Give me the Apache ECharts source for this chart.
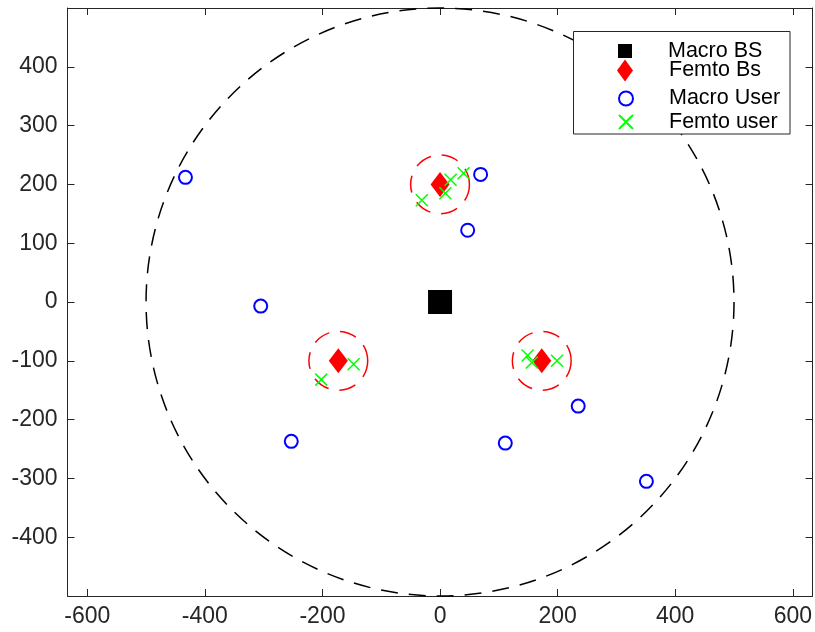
<!DOCTYPE html>
<html>
<head>
<meta charset="utf-8">
<script src="https://cdn.jsdelivr.net/npm/echarts@6/dist/echarts.min.js"></script>
<style>
  html, body { margin: 0; padding: 0; background: #fff; }
  #chart { width: 815px; height: 632px; }
</style>
</head>
<body>
<div id="chart"></div>
<script>
// Network layout: one macro cell (radius 500) with three femto cells (radius 50)
const macroBS = [[0, 0]];
const femtoBS = [[0, 200], [-173, -100], [173, -100]];
const macroUsers = [[-433, 212], [69, 217], [47, 122], [-305, -7], [-253, -237], [111, -240], [235, -177], [351, -305]];
const femtoUsers = [[-31, 173], [9, 185], [18, 208], [40, 219], [-147, -106], [-202, -132], [149, -91], [156, -103], [199, -100]];
const macroCell = [[0, 0, 500]];
const femtoCells = [[0, 200, 50], [-173, -100, 50], [173, -100, 50]];

const xTicks = [-600, -400, -200, 0, 200, 400, 600];
const yTicks = [-400, -300, -200, -100, 0, 100, 200, 300, 400];
const xRange = [-633.6, 633.6];
const yRange = [-500, 500];

const INK = '#262626';
const FONT = 'Liberation Sans, Arial, Helvetica, sans-serif';
const crossPath = 'path://M0,0L10,10M10,0L0,10';

function axisBase(kind, pos, ticks, range, showLabel) {
  return {
    type: 'value', position: pos, min: range[0], max: range[1],
    splitLine: { show: false },
    axisLine: { show: true, onZero: false, lineStyle: { color: INK, width: 1 } },
    axisTick: { show: true, inside: true, length: 7, customValues: ticks, lineStyle: { color: INK, width: 1 } },
    axisLabel: {
      show: showLabel, customValues: ticks, color: INK, fontFamily: FONT, fontSize: 23,
      margin: kind === 'x' ? 9 : 10
    }
  };
}

function circleItem(params, api) {
  const c = api.coord([api.value(0), api.value(1)]);
  const r = api.size([api.value(2), 0])[0];
  return {
    type: 'circle',
    shape: { cx: c[0], cy: c[1], r: r },
    style: { fill: 'none', stroke: api.visual('color'), lineWidth: 1.5, lineDash: [17, 11] },
    silent: true
  };
}

function legendRow(name, top, w, h, pad) {
  return {
    show: true, data: [name], orient: 'vertical', left: 625 - w / 2, top: top - h / 2,
    padding: 0, itemWidth: w, itemHeight: h, selectedMode: false, z: 60,
    textStyle: { color: '#000', fontFamily: FONT, fontSize: 21.5, padding: [0, 0, 0, pad] }
  };
}

const chart = echarts.init(document.getElementById('chart'), null, { renderer: 'canvas' });
chart.setOption({
  animation: false,
  backgroundColor: '#fff',
  grid: { left: 67.5, right: 2, top: 8, bottom: 36, containLabel: false },
  xAxis: [axisBase('x', 'bottom', xTicks, xRange, true), axisBase('x', 'top', xTicks, xRange, false)],
  yAxis: [axisBase('y', 'left', yTicks, yRange, true), axisBase('y', 'right', yTicks, yRange, false)],
  graphic: [{
    type: 'rect', z: 50,
    shape: { x: 573.5, y: 31.5, width: 216.5, height: 102.5 },
    style: { fill: '#fff', stroke: INK, lineWidth: 1 }
  }],
  legend: [
    legendRow('Macro BS', 47, 14, 14, 31),
    legendRow('Femto Bs', 70.5, 16, 22, 31),
    legendRow('Macro User', 94.5, 14, 14, 31),
    legendRow('Femto user', 118, 14, 14, 31)
  ],
  series: [
    { type: 'custom', name: 'macroCell', data: macroCell, renderItem: circleItem, itemStyle: { color: '#000' }, z: 1, clip: false },
    { type: 'custom', name: 'femtoCells', data: femtoCells, renderItem: circleItem, itemStyle: { color: '#ff0000' }, z: 1 },
    { type: 'scatter', name: 'Macro BS', data: macroBS, symbol: 'rect', symbolSize: 24, itemStyle: { color: '#000', opacity: 1 }, z: 5 },
    { type: 'scatter', name: 'Femto Bs', data: femtoBS, symbol: 'diamond', symbolSize: [19, 25], itemStyle: { color: '#ff0000', opacity: 1 }, z: 5 },
    { type: 'scatter', name: 'Macro User', data: macroUsers, symbol: 'emptyCircle', symbolSize: 13, itemStyle: { color: '#0000ff', borderColor: '#0000ff', borderWidth: 1.7, opacity: 1 }, z: 6 },
    { type: 'scatter', name: 'Femto user', data: femtoUsers, symbol: crossPath, symbolSize: 12, itemStyle: { color: '#00ff00', borderColor: '#00ff00', borderWidth: 1.5, opacity: 1 }, z: 7 }
  ]
});
</script>
</body>
</html>
